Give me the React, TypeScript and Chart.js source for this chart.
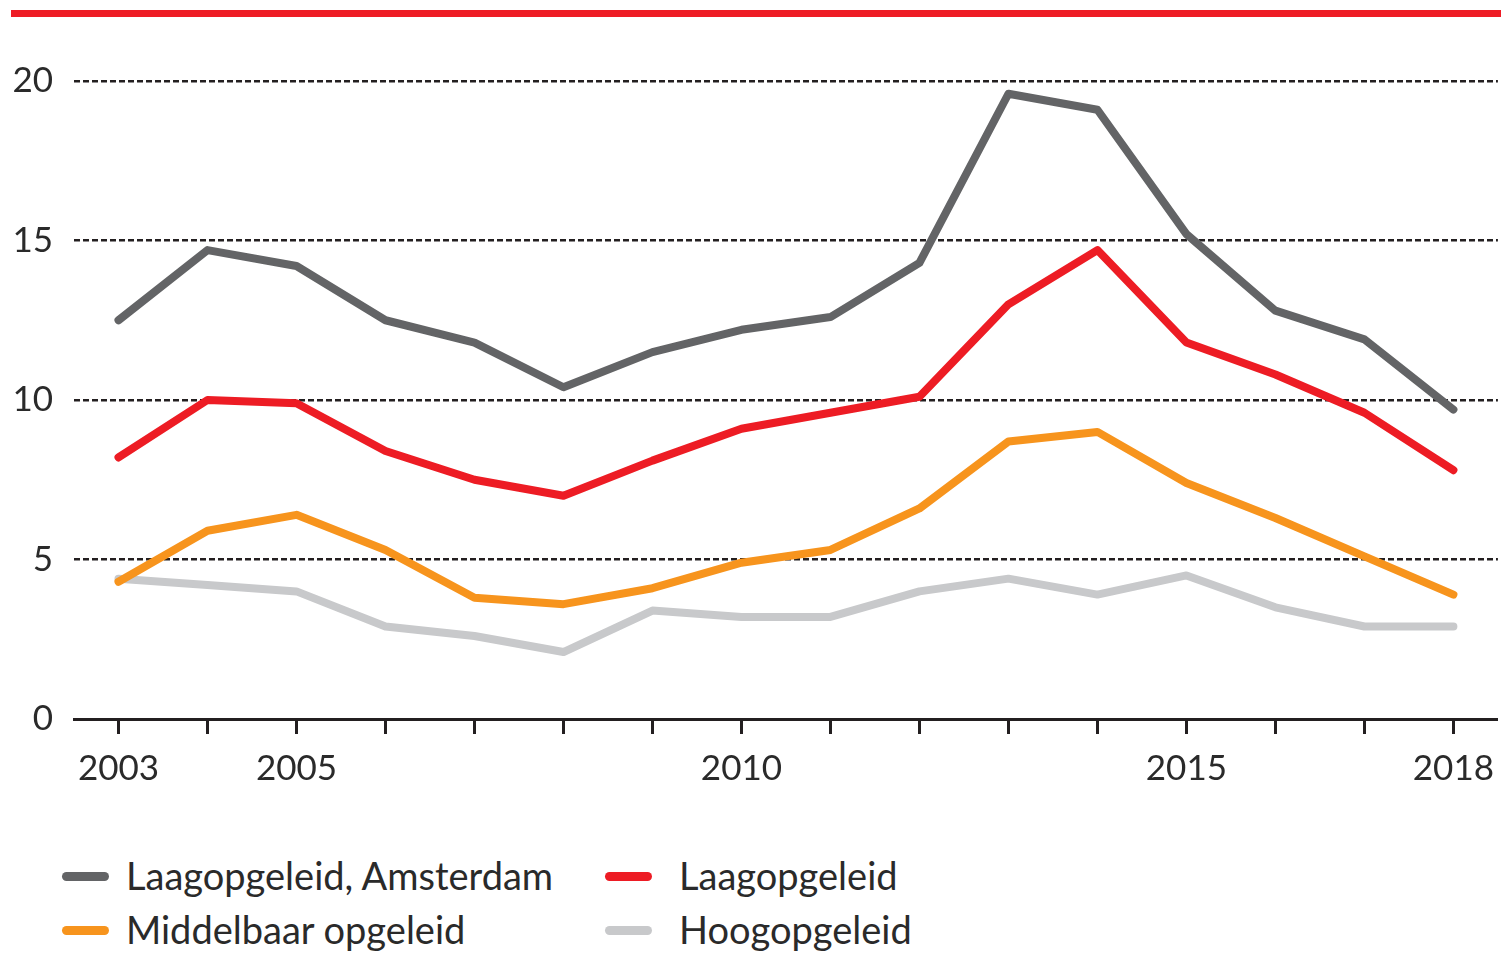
import React, { useEffect, useRef } from "react";
import { Chart, registerables } from "chart.js";

Chart.register(...registerables);

const years = ["2003","2004","2005","2006","2007","2008","2009","2010","2011","2012","2013","2014","2015","2016","2017","2018"];
const shownYears = ["2003", "2005", "2010", "2015", "2018"];
const yTicks = [0, 5, 10, 15, 20];

const laagAmsterdam = [12.5, 14.7, 14.2, 12.5, 11.8, 10.4, 11.5, 12.2, 12.6, 14.3, 19.6, 19.1, 15.2, 12.8, 11.9, 9.7];
const laag = [8.2, 10.0, 9.9, 8.4, 7.5, 7.0, 8.1, 9.1, 9.6, 10.1, 13.0, 14.7, 11.8, 10.8, 9.6, 7.8];
const middelbaar = [4.3, 5.9, 6.4, 5.3, 3.8, 3.6, 4.1, 4.9, 5.3, 6.6, 8.7, 9.0, 7.4, 6.3, 5.1, 3.9];
const hoog = [4.4, 4.2, 4.0, 2.9, 2.6, 2.1, 3.4, 3.2, 3.2, 4.0, 4.4, 3.9, 4.5, 3.5, 2.9, 2.9];

const seriesNames = ["Laagopgeleid, Amsterdam", "Laagopgeleid", "Middelbaar opgeleid", "Hoogopgeleid"];
const seriesColors = ["#636466", "#ed1c24", "#f7941d", "#c8c9cb"];

const FONT = "Lato, 'Open Sans', sans-serif";
const TEXT = "#2a2a2a";
const INK = "#231f20";

export default function App() {
  const ref = useRef<HTMLCanvasElement | null>(null);

  useEffect(() => {
    if (!ref.current) return;
    const data = [laagAmsterdam, laag, middelbaar, hoog];
    const chart = new Chart(ref.current, {
      type: "line",
      data: {
        labels: years,
        datasets: data.map((d, i) => ({
          label: seriesNames[i],
          data: d,
          borderColor: seriesColors[i],
          backgroundColor: seriesColors[i],
          borderWidth: 8,
          borderCapStyle: "round" as const,
          borderJoinStyle: "round" as const,
          pointRadius: 0,
          tension: 0,
          fill: false,
        })),
      },
      options: {
        responsive: false,
        animation: false,
        devicePixelRatio: 1,
        layout: { padding: { top: 81, right: 0, left: 0, bottom: 0 } },
        plugins: { legend: { display: false }, tooltip: { enabled: false } },
        scales: {
          x: {
            type: "category",
            offset: true,
            grid: {
              drawOnChartArea: false,
              drawTicks: true,
              tickLength: 15,
              tickWidth: 3,
              tickColor: INK,
            },
            border: { display: true, color: INK, width: 3 },
            ticks: {
              autoSkip: false,
              maxRotation: 0,
              padding: 14,
              color: TEXT,
              font: { family: FONT, size: 35 },
              callback: function (this: any, _v: any, idx: number) {
                const y = years[idx];
                return shownYears.includes(y) ? y : "";
              },
            },
            afterFit: (s: any) => { s.height = 91; },
          },
          y: {
            min: 0,
            max: 20,
            afterBuildTicks: (s: any) => { s.ticks = yTicks.map((v) => ({ value: v })); },
            grid: {
              drawTicks: false,
              lineWidth: 2.5,
              color: (ctx: any) => (ctx.tick && ctx.tick.value === 0 ? "rgba(0,0,0,0)" : INK),
            },
            border: { display: false, dash: [6, 3] },
            ticks: {
              padding: 21,
              color: TEXT,
              font: { family: FONT, size: 35 },
            },
            afterFit: (s: any) => { s.width = 74; },
          },
        },
      },
    } as any);
    return () => chart.destroy();
  }, []);

  const legendPos = [
    { sw: 62, tx: 126, top: 877 },
    { sw: 605, tx: 679, top: 877 },
    { sw: 62, tx: 126, top: 931 },
    { sw: 605, tx: 679, top: 931 },
  ];

  return (
    <div style={{ position: "absolute", left: 0, top: 0, width: 1501, height: 954, background: "#fff", overflow: "hidden" }}>
      <div style={{ position: "absolute", left: 11, top: 10, width: 1490, height: 7, background: "#ee1c25" }} />
      <canvas ref={ref} width={1508} height={810} style={{ position: "absolute", left: 0, top: 0, width: 1508, height: 810 }} />
      {seriesNames.map((name, i) => (
        <React.Fragment key={name}>
          <div
            style={{
              position: "absolute",
              left: legendPos[i].sw,
              top: legendPos[i].top - 5,
              width: 47,
              height: 9,
              borderRadius: 5,
              background: seriesColors[i],
            }}
          />
          <div
            style={{
              position: "absolute",
              left: legendPos[i].tx,
              top: legendPos[i].top - 27,
              height: 50,
              lineHeight: "50px",
              fontFamily: FONT,
              fontSize: 38,
              color: TEXT,
              whiteSpace: "nowrap",
            }}
          >
            {name}
          </div>
        </React.Fragment>
      ))}
    </div>
  );
}
